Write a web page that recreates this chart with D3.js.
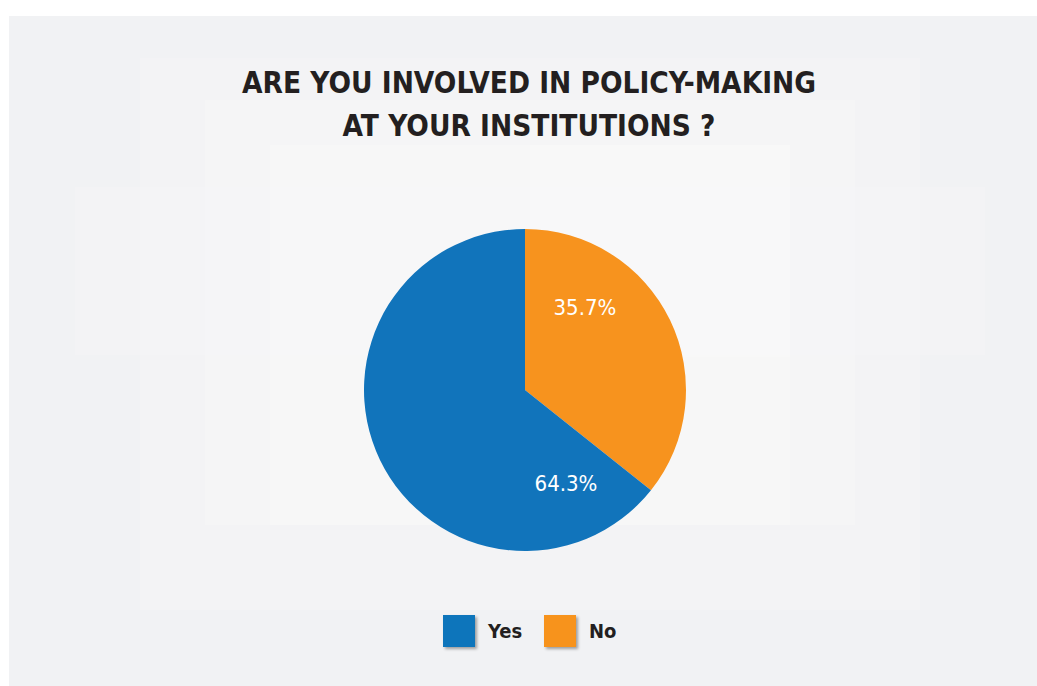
<!DOCTYPE html>
<html>
<head>
<meta charset="utf-8">
<script src="https://cdn.jsdelivr.net/npm/d3@7"></script>
<style>
  html, body { margin: 0; padding: 0; background: #ffffff; }
  svg text { font-family: "DejaVu Sans Condensed", "Roboto", sans-serif; }
</style>
</head>
<body>
<div id="holder"></div>
<script>
const labels = ["No", "Yes"];
const values = [35.7, 64.3];
const colors = ["#f7931e", "#1174bb"];
const legendOrder = ["Yes", "No"];
const titleLines = ["ARE YOU INVOLVED IN POLICY-MAKING", "AT YOUR INSTITUTIONS ?"];

const w = 1037, h = 686;
const cx = 525, cy = 390, radius = 161;
// where each value label sits inside its slice (share of the slice's angle)
const labelShare = [0.28, 0.12];
const labelRadius = 102;

const svg = d3.select('#holder')
    .append('svg')
    .attr('width', w)
    .attr('height', h);

const defs = svg.append('defs');
const shadow = defs.append('filter').attr('id', 'shadow')
    .attr('x', '-30%').attr('y', '-30%').attr('width', '170%').attr('height', '170%');
shadow.append('feDropShadow')
    .attr('dx', 2).attr('dy', 2).attr('stdDeviation', 1.5)
    .attr('flood-color', '#000').attr('flood-opacity', 0.35);

// panel background with soft lighter layers
svg.append('rect')
    .attr('x', 9).attr('y', 16).attr('width', w - 9).attr('height', h - 16)
    .style('fill', '#f1f2f4');

const glow = [
    [140, 58, 780, 552, 0.14],
    [75, 187, 910, 168, 0.14],
    [205, 100, 650, 425, 0.16],
    [270, 145, 520, 380, 0.2],
    [530, 145, 260, 212, 0.16]
];
svg.selectAll('rect.glow')
    .data(glow)
    .enter()
    .append('rect')
    .attr('class', 'glow')
    .attr('x', d => d[0]).attr('y', d => d[1])
    .attr('width', d => d[2]).attr('height', d => d[3])
    .style('fill', '#ffffff')
    .style('opacity', d => d[4]);

// title
svg.append('g')
    .selectAll('text')
    .data(titleLines)
    .enter()
    .append('text')
    .attr('x', 529)
    .attr('y', (d, i) => 93 + i * 43)
    .style('text-anchor', 'middle')
    .style('font-weight', 'bold')
    .style('font-size', '29.5px')
    .style('fill', '#231f20')
    .text(d => d);

// pie
const data = labels.map((l, i) => ({label: l, value: values[i], color: colors[i]}));
const pie = d3.pie().sort(null).value(d => d.value);
const arc = d3.arc().innerRadius(0).outerRadius(radius);

const g = svg.append('g').attr('transform', `translate(${cx},${cy})`);
const arcs = pie(data);

g.selectAll('path')
    .data(arcs)
    .enter()
    .append('path')
    .attr('d', arc)
    .style('fill', d => d.data.color);

g.selectAll('text')
    .data(arcs)
    .enter()
    .append('text')
    .attr('transform', (d, i) => {
        const a = d.startAngle + (d.endAngle - d.startAngle) * labelShare[i];
        return `translate(${labelRadius * Math.sin(a)},${-labelRadius * Math.cos(a)})`;
    })
    .attr('dy', '0.35em')
    .style('text-anchor', 'middle')
    .style('font-size', '22px')
    .style('fill', '#ffffff')
    .text(d => d.data.value.toFixed(1) + '%');

// legend
const legend = svg.append('g').attr('transform', 'translate(443,615)');
const item = legend.selectAll('g')
    .data(legendOrder)
    .enter()
    .append('g')
    .attr('transform', (d, i) => `translate(${i * 101},0)`);

item.append('rect')
    .attr('width', 32).attr('height', 32)
    .style('fill', d => colors[labels.indexOf(d)])
    .attr('filter', 'url(#shadow)');

item.append('text')
    .attr('x', 45).attr('y', 23)
    .style('font-size', '20px')
    .style('font-weight', 'bold')
    .style('fill', '#231f20')
    .text(d => d);
</script>
</body>
</html>
